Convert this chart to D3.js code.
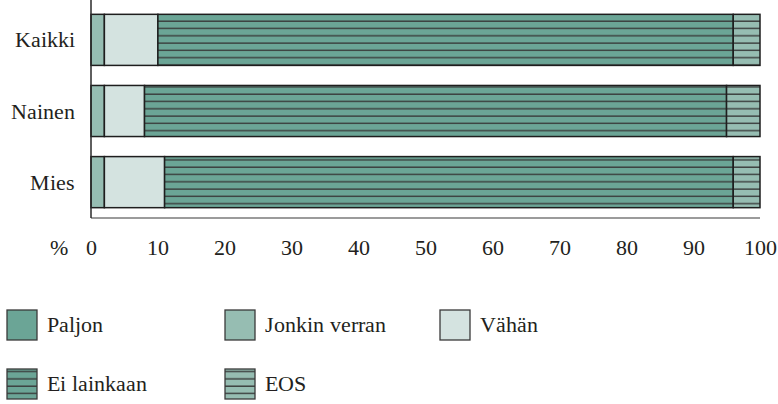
<!DOCTYPE html>
<html><head><meta charset="utf-8">
<script src="https://cdn.jsdelivr.net/npm/d3@7"></script>
<style>
@font-face { font-family: "ChartSerif"; src: local("Liberation Serif"), local("LiberationSerif"), local("Liberation Serif Regular"), local("LiberationSerif-Regular"); }
svg text { font-family: "ChartSerif", "Liberation Serif", "Times New Roman", serif !important; }
</style>
</head><body style="margin:0;background:#fff">
<svg id="c" width="778" height="404" style="display:block"></svg>
<script>
const categories = ["Kaikki", "Nainen", "Mies"];
const seriesNames = ["Paljon", "Jonkin verran", "Vähän", "Ei lainkaan", "EOS"];
const paljon = [0, 0, 0];
const jonkinVerran = [2, 2, 2];
const vahan = [8, 6, 9];
const eiLainkaan = [86, 87, 85];
const eos = [4, 5, 4];
const tickValues = [0, 10, 20, 30, 40, 50, 60, 70, 80, 90, 100];

const TXT = "#231f20";
const fills = ["#6ba596", "#96bdb2", "#d4e3e0", "#6ba596", "#96bdb2"];
const striped = [false, false, false, true, true];

const svg = d3.select("#c");
const defs = svg.append("defs");
[3, 4].forEach(i => {
  const p = defs.append("pattern").attr("id", "pat" + i).attr("patternUnits", "userSpaceOnUse")
    .attr("width", 10).attr("height", 7.3);
  p.append("rect").attr("width", 10).attr("height", 7.3).attr("fill", fills[i]);
  p.append("rect").attr("y", 5.9).attr("width", 10).attr("height", 1.4).attr("fill", "#3a3d3c");
});
const fillOf = i => striped[i] ? "url(#pat" + i + ")" : fills[i];

const x = d3.scaleLinear().domain([0, 100]).range([91, 760]);
const y = d3.scaleBand().domain(categories).range([4.3, 217.7]).paddingInner(0.282).paddingOuter(0.141);

const rows = categories.map((c, i) => {
  const r = {cat: c};
  [paljon, jonkinVerran, vahan, eiLainkaan, eos].forEach((arr, k) => r[seriesNames[k]] = arr[i]);
  return r;
});
const stack = d3.stack().keys(seriesNames)(rows);

stack.forEach((s, k) => {
  svg.append("g").selectAll("rect").data(s.filter(d => d[1] - d[0] > 0)).join("rect")
    .attr("x", d => x(d[0])).attr("y", d => y(d.data.cat))
    .attr("width", d => x(d[1]) - x(d[0])).attr("height", y.bandwidth())
    .attr("fill", fillOf(k)).attr("stroke", "#1e1e1e").attr("stroke-width", 1.5);
});

svg.append("line").attr("x1", x(0)).attr("x2", x(100)).attr("y1", 218).attr("y2", 218)
  .attr("stroke", "#7a7a7a").attr("stroke-width", 1.6);
svg.append("line").attr("x1", x(0)).attr("x2", x(0)).attr("y1", 0).attr("y2", 218)
  .attr("stroke", "#2a2a2a").attr("stroke-width", 1.5);

svg.append("g").selectAll("text").data(categories).join("text")
  .attr("x", 75).attr("y", d => y(d) + y.bandwidth() / 2 + 7.5)
  .attr("text-anchor", "end").attr("font-size", 22).attr("fill", TXT).text(d => d);

const xAxis = d3.axisBottom(x).tickValues(tickValues).tickSize(0).tickPadding(0).tickFormat(d3.format("d"));
const ga = svg.append("g").attr("transform", "translate(0,240)").call(xAxis)
  .attr("font-size", 22).attr("font-family", null);
ga.select(".domain").remove();
ga.selectAll("text").attr("dy", "0.68em").attr("fill", TXT);
svg.append("text").attr("x", 68).attr("y", 255).attr("text-anchor", "end")
  .attr("font-size", 22).attr("fill", TXT).text("%");

const legPos = [[7, 310], [225, 310], [440, 310], [7, 369], [225, 369]];
const lg = svg.append("g");
seriesNames.forEach((n, i) => {
  const [lx, ly] = legPos[i];
  lg.append("rect").attr("x", lx).attr("y", ly).attr("width", 30).attr("height", 30)
    .attr("fill", fillOf(i)).attr("stroke", "#3a3a3a").attr("stroke-width", 1.3);
  lg.append("text").attr("x", lx + 40).attr("y", ly + 22).attr("font-size", 22)
    .attr("fill", TXT).text(n);
});
</script>
</body></html>
